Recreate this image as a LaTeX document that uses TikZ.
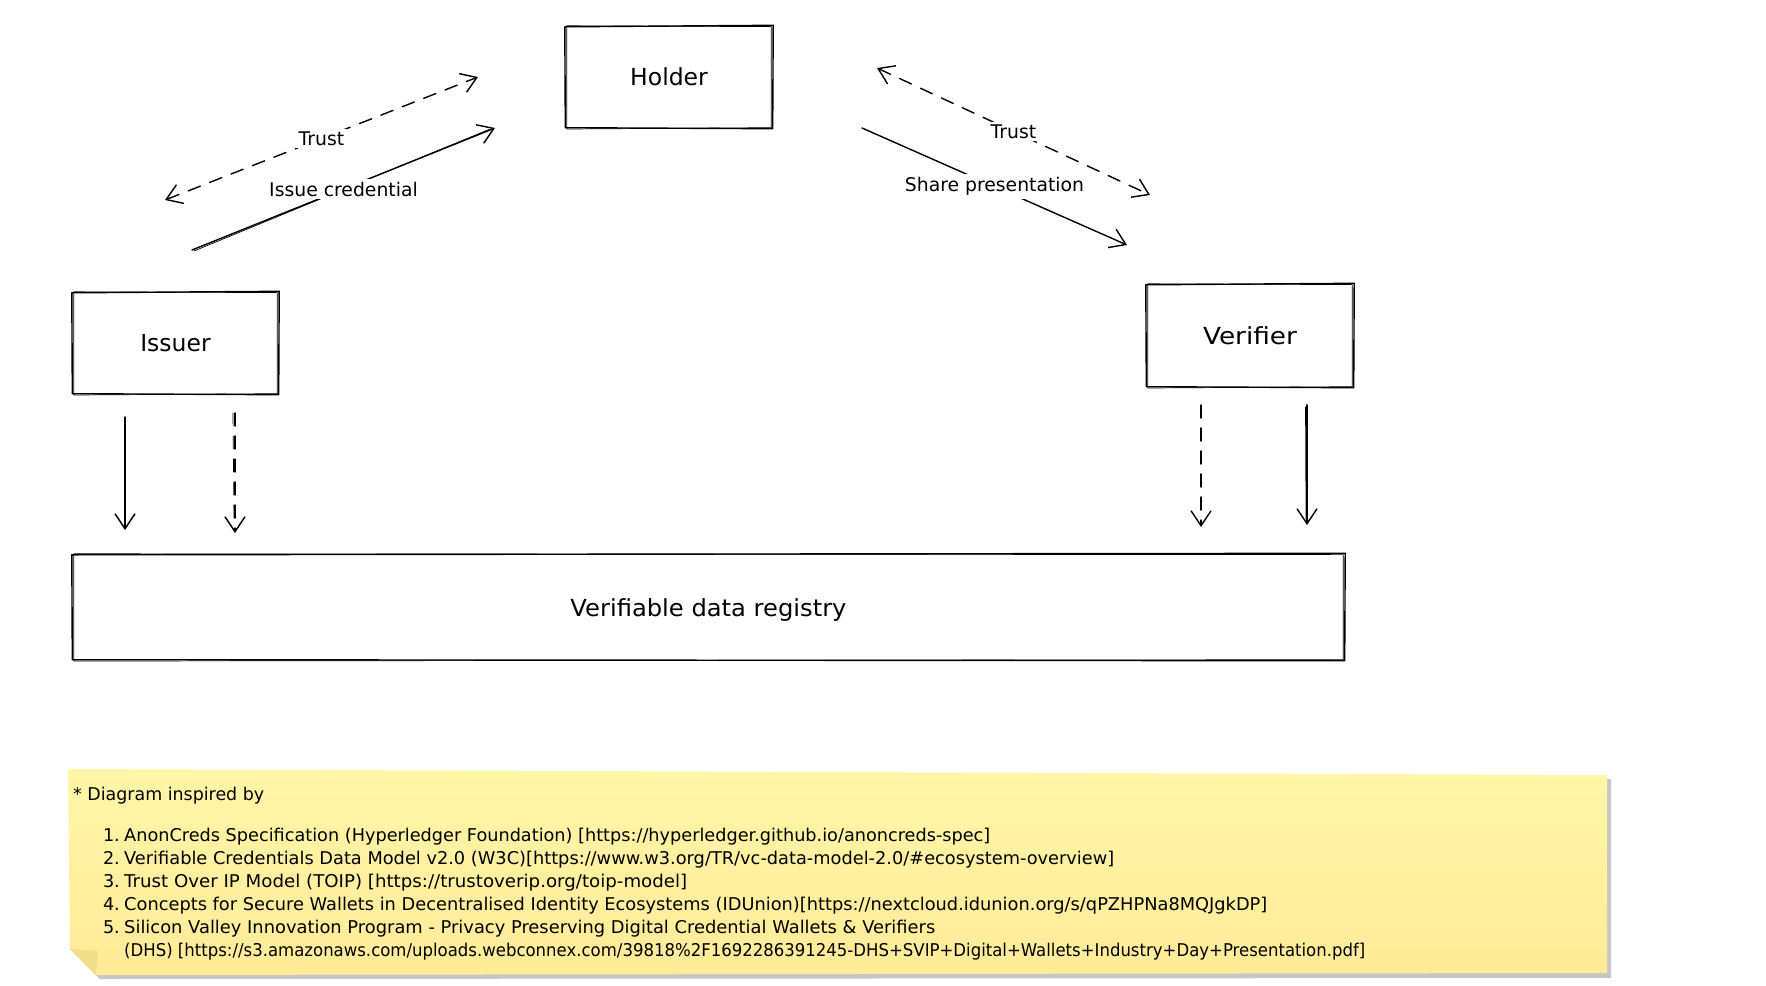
\documentclass[tikz,border=0pt]{standalone}
\usepackage{fontspec}
\setmainfont{DejaVu Sans}
\usetikzlibrary{arrows.meta,calc}
\definecolor{notetop}{HTML}{FFF6A8}
\definecolor{notebot}{HTML}{FFEB98}
\definecolor{notefold}{HTML}{F2DD8C}
\definecolor{shadowgray}{HTML}{C6C6C6}
\tikzset{
  sk/.style={line width=1.4pt, line join=round, line cap=round},
  skthin/.style={line width=0.7pt, line join=round, line cap=round},
  boxlabel/.style={font=\fontsize{23.5}{28}\selectfont, inner sep=0pt},
  edgelabel/.style={font=\fontsize{18.8}{22}\selectfont, fill=white, inner sep=3pt},
  barb/.tip={Straight Barb[length=15pt,width=20pt,line width=1.4pt]},
  arr/.style={sk, -barb},
  darr/.style={sk, dash pattern=on 13pt off 10pt, barb-barb},
  dsarr/.style={sk, dash pattern=on 13pt off 10pt, -barb},
  notetext/.style={font=\fontsize{17.6}{21}\selectfont, anchor=base west, inner sep=0pt},
  notenum/.style={font=\fontsize{17.6}{21}\selectfont, anchor=base east, inner sep=0pt},
}
\newcommand\roughbox[1]{%
  \draw[sk] ($(#1.north west)+(-1,1)$) -- ($(#1.north east)+(1,-0.5)$) -- ($(#1.south east)+(0.5,0.5)$) -- ($(#1.south west)+(-0.5,-0.5)$) -- cycle;
  \draw[skthin] ($(#1.north west)+(1,0)$) -- ($(#1.north east)+(-1,0.8)$) -- ($(#1.south east)+(-1,-0.5)$) -- ($(#1.south west)+(1,0.8)$) -- cycle;
}
\newcommand\fitw[2]{\resizebox{#1pt}{\height}{#2}}
\begin{document}
\begin{tikzpicture}[x=1pt,y=-1pt]
\useasboundingbox (0,0) rectangle (1766,985);
\fill[white] (0,0) rectangle (1766,985);

% boxes
\node[boxlabel, minimum width=206pt, minimum height=102pt] (holder) at (669,77) {Holder};
\node[boxlabel, minimum width=205pt, minimum height=102pt] (issuer) at (175.5,343) {Issuer};
\node[boxlabel, minimum width=206pt, minimum height=103pt] (verifier) at (1250,335.5) {\fitw{94}{Verifier}};
\node[boxlabel, minimum width=1271pt, minimum height=106pt] (registry) at (708.5,607) {};
\node[boxlabel] (registrytext) at ($(registry.center)+(0,3)$) {\fitw{276}{Verifiable data registry}};
\roughbox{holder}
\roughbox{issuer}
\roughbox{verifier}
\roughbox{registry}

% diagonal connectors
\coordinate (tLa) at (165,200);
\coordinate (tLb) at (478,77);
\coordinate (icA) at (192,250);
\coordinate (icB) at (495,128);
\coordinate (tRa) at (877,68);
\coordinate (tRb) at (1150,195);
\coordinate (spA) at (862,128);
\coordinate (spB) at (1127,245);

\draw[darr] (tLa) -- node[edgelabel, pos=0.5] (trustL) {Trust} (tLb);
\draw[skthin] ($(icA)+(2,1)$) -- ($(icB)+(-6,1.5)$);
\draw[arr] (icA) -- node[edgelabel, pos=0.5] (issue) {Issue credential} (icB);
\draw[darr] (tRa) -- node[edgelabel, pos=0.5] (trustR) {Trust} (tRb);
\draw[arr] (spA) -- node[edgelabel, pos=0.5] (share) {Share presentation} (spB);

% vertical connectors
\coordinate (isA) at (125,417);
\coordinate (isB) at (125,530);
\coordinate (idA) at (235,413);
\coordinate (idB) at (235,533);
\coordinate (vdA) at (1201,405);
\coordinate (vdB) at (1201,527);
\coordinate (vsA) at (1307,405);
\coordinate (vsB) at (1307,525);
\draw[arr] (isA) -- (isB);
\draw[dsarr] (idA) -- (idB);
\draw[skthin, dash pattern=on 13pt off 10pt] ($(idA)+(-2,0)$) -- ($(idB)+(-1,-8)$);
\draw[dsarr] (vdA) -- (vdB);
\draw[arr] (vsA) -- (vsB);
\draw[skthin] ($(vsA)+(-1.5,2)$) -- ($(vsB)+(-1,-6)$);

% sticky note
\fill[shadowgray] (73,774) -- (1611,779) -- (1611,978) -- (100,979) -- (74,953) -- cycle;
\shade[top color=notetop, bottom color=notebot] (68,769) -- (1607,775) -- (1607,973) -- (96,975) -- (70,949) -- cycle;
\fill[notefold] (70,949) -- (98,951) -- (96,975) -- cycle;

\node[notetext] (n0) at (73,800.5) {\fitw{191}{* Diagram inspired by}};
\node[notenum] (k1) at (120,841.5) {1.};
\node[notetext] (n1) at (124,841.5) {\fitw{866}{AnonCreds Specification (Hyperledger Foundation) [https://hyperledger.github.io/anoncreds-spec]}};
\node[notenum] (k2) at (120,864.5) {2.};
\node[notetext] (n2) at (124,864.5) {\fitw{990}{Verifiable Credentials Data Model v2.0 (W3C)[https://www.w3.org/TR/vc-data-model-2.0/\#ecosystem-overview]}};
\node[notenum] (k3) at (120,887.5) {3.};
\node[notetext] (n3) at (124,887.5) {\fitw{563}{Trust Over IP Model (TOIP) [https://trustoverip.org/toip-model]}};
\node[notenum] (k4) at (120,910.5) {4.};
\node[notetext] (n4) at (124,910.5) {\fitw{1143}{Concepts for Secure Wallets in Decentralised Identity Ecosystems (IDUnion)[https://nextcloud.idunion.org/s/qPZHPNa8MQJgkDP]}};
\node[notenum] (k5) at (120,933.5) {5.};
\node[notetext] (n5) at (124,933.5) {\fitw{811}{Silicon Valley Innovation Program - Privacy Preserving Digital Credential Wallets \& Verifiers}};
\node[notetext] (n6) at (124,956.5) {\fitw{1241}{(DHS) [https://s3.amazonaws.com/uploads.webconnex.com/39818\%2F1692286391245-DHS+SVIP+Digital+Wallets+Industry+Day+Presentation.pdf]}};
\end{tikzpicture}
\end{document}
